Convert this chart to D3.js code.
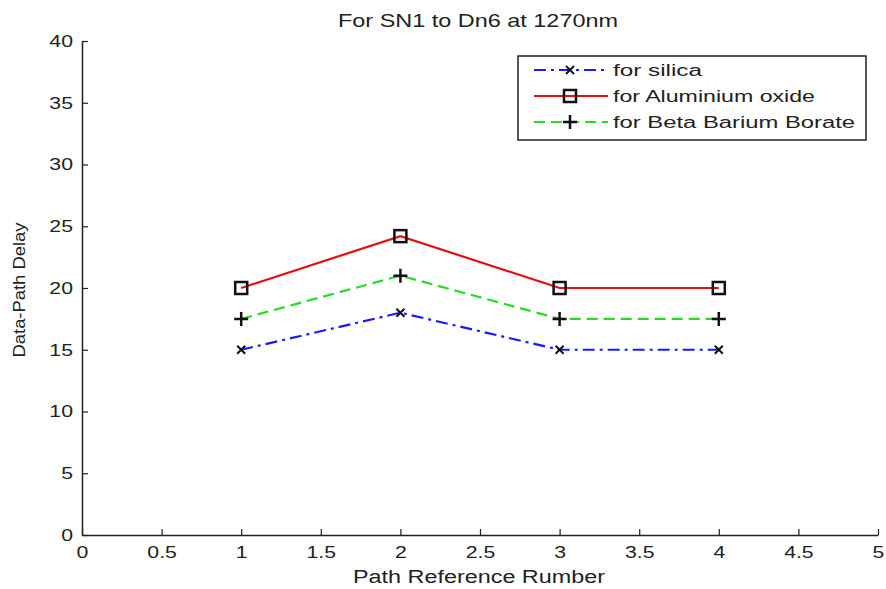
<!DOCTYPE html>
<html><head><meta charset="utf-8">
<script src="https://cdn.jsdelivr.net/npm/d3@7"></script>
<style>body{margin:0;background:#fff}svg{display:block}text{font-family:"Liberation Sans",Arial,sans-serif;fill:#222}</style>
</head><body><svg id="c" width="886" height="589"></svg>
<script>
const xVals = [1, 2, 3, 4];
const silica = [15, 18, 15, 15];
const alumina = [20, 24.2, 20, 20];
const bbb = [17.5, 21, 17.5, 17.5];
const xTicks = [0, 0.5, 1, 1.5, 2, 2.5, 3, 3.5, 4, 4.5, 5];
const yTicks = [0, 5, 10, 15, 20, 25, 30, 35, 40];
const seriesNames = ["for silica", "for Aluminium oxide", "for Beta Barium Borate"];

const svg = d3.select("#c");
const m = {l: 82, r: 8, t: 41, b: 54};
const W = 886, H = 589;
const x = d3.scaleLinear().domain([0, 5]).range([m.l, W - m.r]);
const y = d3.scaleLinear().domain([0, 40]).range([H - m.b, m.t]);

function stretch(sel, k) {
  sel.each(function() {
    const w = this.getComputedTextLength();
    d3.select(this).attr("textLength", w * k).attr("lengthAdjust", "spacingAndGlyphs");
  });
}

const gx = svg.append("g").attr("transform", `translate(0,${H - m.b})`)
  .call(d3.axisBottom(x).tickValues(xTicks).tickFormat(d3.format("")).tickSizeInner(-6).tickSizeOuter(0).tickPadding(11));
const gy = svg.append("g").attr("transform", `translate(${m.l},0)`)
  .call(d3.axisLeft(y).tickValues(yTicks).tickSizeInner(-6).tickSizeOuter(0).tickPadding(9));
[gx, gy].forEach(g => {
  g.selectAll("path.domain").attr("stroke", "#222").attr("stroke-width", 1.5);
  g.selectAll(".tick line").attr("stroke", "#222").attr("stroke-width", 1.2);
  g.selectAll("text").attr("font-size", 17).attr("fill", "#222").attr("font-family", '"Liberation Sans",Arial,sans-serif');
  stretch(g.selectAll("text"), 1.25);
});

svg.append("text").attr("x", 478).attr("y", 27).attr("text-anchor", "middle").attr("font-size", 19)
  .attr("textLength", 280).attr("lengthAdjust", "spacingAndGlyphs").text("For SN1 to Dn6 at 1270nm");
svg.append("text").attr("x", 479).attr("y", 583).attr("text-anchor", "middle").attr("font-size", 18)
  .attr("textLength", 252).attr("lengthAdjust", "spacingAndGlyphs").text("Path Reference Rumber");
svg.append("text").attr("transform", "translate(25,290) rotate(-90)").attr("text-anchor", "middle").attr("font-size", 16)
  .attr("textLength", 135).attr("lengthAdjust", "spacingAndGlyphs").text("Data-Path Delay");

const line = d3.line().x((d, i) => x(xVals[i])).y(d => y(d));
const styles = [
  {data: silica, color: "#1a1aff", dash: "12,5,3,5", marker: "x"},
  {data: alumina, color: "#e01010", dash: null, marker: "sq"},
  {data: bbb, color: "#22dd22", dash: "11,6", marker: "plus"}
];
function drawMarker(g, type, cx, cy) {
  if (type === "sq") {
    g.append("rect").attr("x", cx - 6).attr("y", cy - 6).attr("width", 12).attr("height", 12)
      .attr("fill", "none").attr("stroke", "#111").attr("stroke-width", 2.5);
  } else if (type === "plus") {
    g.append("path").attr("d", `M${cx - 7},${cy}H${cx + 7}M${cx},${cy - 7}V${cy + 7}`).attr("stroke", "#111").attr("stroke-width", 2.5);
  } else {
    g.append("path").attr("d", `M${cx - 4},${cy - 4}L${cx + 4},${cy + 4}M${cx - 4},${cy + 4}L${cx + 4},${cy - 4}`).attr("stroke", "#111").attr("stroke-width", 2);
  }
}
styles.forEach(s => {
  const p = svg.append("path").datum(s.data).attr("d", line).attr("fill", "none")
    .attr("stroke", s.color).attr("stroke-width", 2.2);
  if (s.dash) p.attr("stroke-dasharray", s.dash);
  const g = svg.append("g");
  s.data.forEach((d, i) => drawMarker(g, s.marker, x(xVals[i]), y(d)));
});

// legend
const legendWidths = [89, 202, 242];
const lg = svg.append("g");
lg.append("rect").attr("x", 518).attr("y", 56).attr("width", 348).attr("height", 84)
  .attr("fill", "#fff").attr("stroke", "#222").attr("stroke-width", 1.5);
styles.forEach((s, i) => {
  const ly = 70 + i * 26;
  const l = lg.append("line").attr("x1", 534).attr("x2", 608).attr("y1", ly).attr("y2", ly)
    .attr("stroke", s.color).attr("stroke-width", 2.2);
  if (s.dash) l.attr("stroke-dasharray", s.dash);
  drawMarker(lg, s.marker, 570, ly);
  lg.append("text").attr("x", 613).attr("y", ly + 6).attr("font-size", 16)
    .attr("textLength", legendWidths[i]).attr("lengthAdjust", "spacingAndGlyphs").text(seriesNames[i]);
});
</script></body></html>
